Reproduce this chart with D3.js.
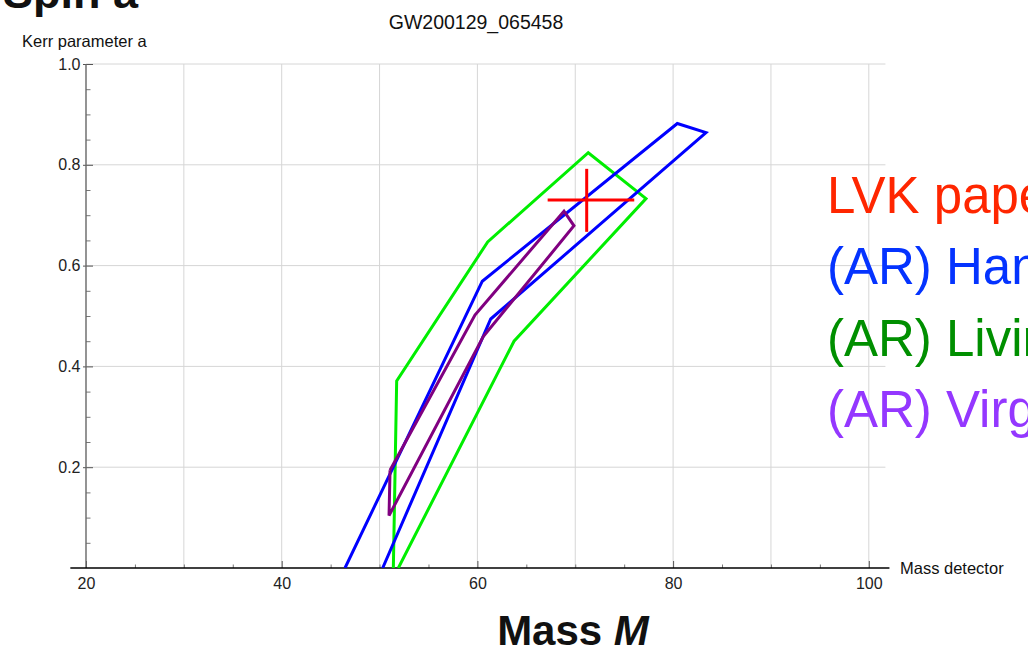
<!DOCTYPE html>
<meta charset="utf-8">
<style>
body { margin: 0; background: #fff; }
svg { display: block; }
.tick text { font: 16px "Liberation Sans", Arial, sans-serif; fill: #222; }
.grid line { stroke: #d6d6d6; stroke-width: 1; }
.curve { fill: none; stroke-width: 3; stroke-linejoin: miter; }
.lab { font-family: "Liberation Sans", Arial, sans-serif; fill: #111; }
.legend { font: 51px "Liberation Sans", Arial, sans-serif; }
</style>
<body>
<script src="https://cdnjs.cloudflare.com/ajax/libs/d3/7.8.5/d3.min.js"></script>
<script>

// contour outlines: [mass M, kerr a]
const hanford = [[46.47, 0], [60.50, 0.569], [80.43, 0.882], [83.36, 0.864], [61.36, 0.494], [50.32, 0]];
const livingston = [[51.41, 0], [51.75, 0.371], [61.05, 0.647], [71.33, 0.824], [77.23, 0.733], [63.74, 0.450], [51.92, 0]];
const virgo = [[51.07, 0.194], [59.75, 0.502], [68.85, 0.708], [69.87, 0.679], [60.60, 0.459], [50.97, 0.104], [51.07, 0.194]];

// LVK paper estimate with error bars
const lvk = {mass: 71.17, massLo: 67.18, massHi: 76.03, spin: 0.730, spinLo: 0.667, spinHi: 0.792};

const xMajor = [20, 40, 60, 80, 100];
const xGrid = [30, 40, 50, 60, 70, 80, 90, 100];
const yMajor = [0.2, 0.4, 0.6, 0.8, 1.0];

const legendItems = [
  {text: "LVK paper", color: "#ff2600"},
  {text: "(AR) Hanford", color: "#0433ff"},
  {text: "(AR) Livingston", color: "#008f00"},
  {text: "(AR) Virgo", color: "#9437ff"}
];

let width = 1028, height = 650;

let svg = d3.select("body").append("svg")
    .attr("width", width)
    .attr("height", height);

let x = d3.scaleLinear().domain([20, 100]).range([86, 868.8]);
let y = d3.scaleLinear().domain([0, 1]).range([568, 64]);

let xLeft = x(18.4), xRight = x(101.7);

// grid
let grid = svg.append("g").attr("class", "grid");
grid.selectAll(".v").data(xGrid).enter().append("line")
    .attr("x1", d => x(d)).attr("x2", d => x(d))
    .attr("y1", y(1)).attr("y2", y(0));
grid.selectAll(".h").data(yMajor).enter().append("line")
    .attr("x1", x(20)).attr("x2", xRight)
    .attr("y1", d => y(d)).attr("y2", d => y(d));

// minor ticks
svg.append("g")
    .attr("transform", "translate(0," + y(0) + ")")
    .call(d3.axisBottom(x).tickValues(d3.range(25, 101, 5).filter(d => d % 20 !== 0)).tickSize(-3.5).tickFormat(""))
    .call(g => g.select(".domain").remove())
    .selectAll("line").attr("stroke", "#777");

svg.append("g")
    .attr("transform", "translate(" + x(20) + ",0)")
    .call(d3.axisLeft(y).tickValues(d3.range(0.05, 1, 0.05).filter(d => Math.abs(d * 5 - Math.round(d * 5)) > 1e-6)).tickSize(-4.5).tickFormat(""))
    .call(g => g.select(".domain").remove())
    .selectAll("line").attr("stroke", "#777");

// major axes
svg.append("g")
    .attr("transform", "translate(0," + y(0) + ")")
    .call(d3.axisBottom(x).tickValues(xMajor).tickSize(-7).tickPadding(10).tickFormat(d3.format("d")))
    .call(g => g.select(".domain").remove())
    .call(g => g.selectAll("line").attr("stroke", "#555"));

svg.append("g")
    .attr("transform", "translate(" + x(20) + ",0)")
    .call(d3.axisLeft(y).tickValues(yMajor).tickSize(-7).tickPadding(5.5).tickFormat(d3.format(".1f")))
    .call(g => g.select(".domain").remove())
    .call(g => g.selectAll("line").attr("stroke", "#555"))
    .call(g => g.selectAll(".tick").append("line")
        .attr("x1", -3).attr("x2", 0).attr("stroke", "#555"));

svg.append("line")
    .attr("x1", x(20)).attr("x2", x(20))
    .attr("y1", y(0)).attr("y2", y(1))
    .attr("stroke", "#666").attr("stroke-width", 1.4);
svg.append("line")
    .attr("x1", xLeft).attr("x2", xRight + 4)
    .attr("y1", y(0)).attr("y2", y(0))
    .attr("stroke", "#000").attr("stroke-width", 1.5);

// contours
svg.append("clipPath").attr("id", "plot")
  .append("rect")
    .attr("x", xLeft).attr("y", 0)
    .attr("width", xRight - xLeft).attr("height", y(0));

let line = d3.line().x(d => x(d[0])).y(d => y(d[1]));
let curves = svg.append("g").attr("clip-path", "url(#plot)");

curves.append("path").attr("class", "curve").attr("d", line(livingston)).attr("stroke", "#00ee00");
curves.append("path").attr("class", "curve").attr("d", line(hanford)).attr("stroke", "#0000ff");
curves.append("path").attr("class", "curve").attr("d", line(virgo)).attr("stroke", "#800080").attr("stroke-width", 3.3);

curves.append("line")
    .attr("x1", x(lvk.massLo)).attr("x2", x(lvk.massHi))
    .attr("y1", y(lvk.spin)).attr("y2", y(lvk.spin))
    .attr("stroke", "#ff0000").attr("stroke-width", 3);
curves.append("line")
    .attr("x1", x(lvk.mass)).attr("x2", x(lvk.mass))
    .attr("y1", y(lvk.spinLo)).attr("y2", y(lvk.spinHi))
    .attr("stroke", "#ff0000").attr("stroke-width", 3);

// labels
svg.append("text").attr("class", "lab")
    .attr("x", 476).attr("y", 29)
    .attr("text-anchor", "middle")
    .style("font-size", "19.5px")
    .text("GW200129_065458");

svg.append("text").attr("class", "lab")
    .attr("x", 22).attr("y", 46.5)
    .style("font-size", "16.5px")
    .text("Kerr parameter a");

svg.append("text").attr("class", "lab")
    .attr("x", 900).attr("y", 574)
    .style("font-size", "16.5px")
    .text("Mass detector");

svg.append("text").attr("class", "lab")
    .attr("x", 3).attr("y", 8)
    .style("font-size", "45px").style("font-weight", "bold")
    .text("Spin a");

let mt = svg.append("text").attr("class", "lab")
    .attr("x", 573).attr("y", 645)
    .attr("text-anchor", "middle")
    .style("font-size", "42px").style("font-weight", "bold");
mt.append("tspan").text("Mass ");
mt.append("tspan").style("font-style", "italic").text("M");

// legend
svg.append("g").selectAll("text").data(legendItems).enter().append("text")
    .attr("class", "legend")
    .attr("x", 827)
    .attr("y", (d, i) => 213 + i * 71.3)
    .attr("fill", d => d.color)
    .text(d => d.text);

</script>
